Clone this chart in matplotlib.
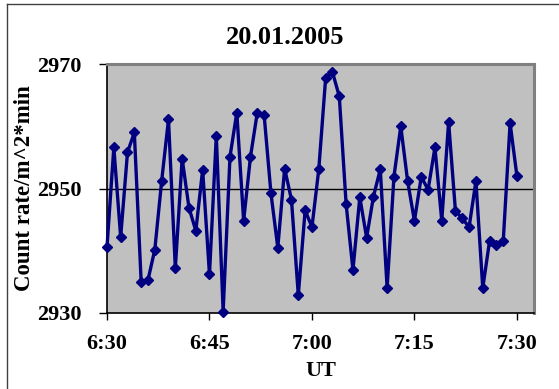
import matplotlib
matplotlib.use("Agg")
import matplotlib.pyplot as plt
from matplotlib.lines import Line2D

title = "20.01.2005"
x_label = "UT"
y_label = "Count rate/m^2*min"
minutes = list(range(61))  # minutes after 6:30
counts = [2940.6, 2956.6, 2942.2, 2955.8, 2959.0, 2935.0, 2935.3, 2940.2, 2951.2, 2961.1,
          2937.2, 2954.8, 2946.9, 2943.2, 2953.0, 2936.2, 2958.5, 2930.2, 2955.1, 2962.2,
          2944.8, 2955.1, 2962.2, 2961.8, 2949.2, 2940.5, 2953.2, 2948.2, 2932.9, 2946.5,
          2943.8, 2953.1, 2967.7, 2968.7, 2964.8, 2947.5, 2936.9, 2948.6, 2942.1, 2948.7,
          2953.1, 2934.0, 2951.9, 2960.0, 2951.2, 2944.8, 2951.9, 2949.8, 2956.6, 2944.8,
          2960.7, 2946.4, 2945.2, 2943.8, 2951.2, 2934.0, 2941.6, 2941.0, 2941.6, 2960.5,
          2952.0]
x_ticks = [0, 15, 30, 45, 60]
x_tick_labels = ["6:30", "6:45", "7:00", "7:15", "7:30"]
y_ticks = [2930, 2950, 2970]

serif = ["Liberation Serif", "DejaVu Serif"]

fig = plt.figure(figsize=(5.59, 3.89), dpi=100)
ax = fig.add_axes([107/559, 1-313/389, (534-107)/559, (313-64)/389])
ax.set_facecolor("#C0C0C0")

ax.axhline(2950, color="black", lw=1.0, zorder=1)
ax.plot(minutes, counts, color="#000080", lw=2.4, marker="D", markersize=5.5,
        markerfacecolor="#000080", markeredgecolor="#000080", zorder=3, clip_on=False)

ax.set_xlim(0, 62.5)
ax.set_ylim(2930, 2970)
ax.set_xticks(x_ticks)
ax.set_xticklabels(x_tick_labels)
ax.set_yticks(y_ticks)
ax.set_yticklabels([str(v) for v in y_ticks])

for lab in ax.get_xticklabels() + ax.get_yticklabels():
    lab.set_fontfamily(serif)
    lab.set_fontweight("bold")
    lab.set_fontsize(16)

ax.tick_params(axis="x", direction="out", length=5, width=1, pad=10, colors="black")
ax.tick_params(axis="y", direction="out", length=6, width=1, pad=12, colors="black")

for side in ["left", "bottom"]:
    ax.spines[side].set_color("black")
    ax.spines[side].set_linewidth(1.2)
for side in ["top", "right"]:
    ax.spines[side].set_color("#808080")
    ax.spines[side].set_linewidth(2.2)

ax.set_xlabel(x_label, fontfamily=serif, fontweight="bold", fontsize=16, labelpad=5)
ax.set_ylabel(y_label, fontfamily=serif, fontweight="bold", fontsize=16.5)
ax.yaxis.set_label_coords(-(107-35)/(534-107), 0.5)

fig.text(285/559, 1-38/389, title, ha="center", va="center", fontfamily=serif,
         fontweight="bold", fontsize=19)

# chart-area border (left and top visible)
fig.add_artist(Line2D([7/559, 7/559], [0, 1-4/389], transform=fig.transFigure, color="#404040", lw=1))
fig.add_artist(Line2D([7/559, 1], [1-4/389, 1-4/389], transform=fig.transFigure, color="#404040", lw=1))

fig.savefig("out.png", dpi=100)
